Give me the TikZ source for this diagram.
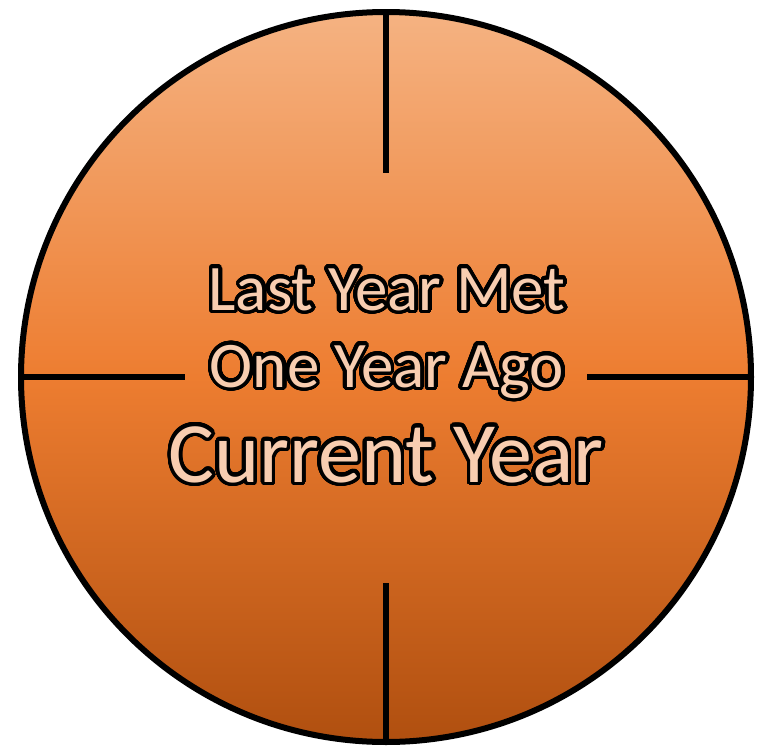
\documentclass[tikz,border=0pt]{standalone}
\usepackage{fontspec}
\setmainfont{Carlito}
\usepackage[copies]{contour}
\contourlength{3.5pt}
\contournumber{48}
\definecolor{peach}{RGB}{248,205,176}
\pgfdeclareverticalshading{orangegrad}{100bp}{
  rgb(0bp)=(0.69,0.31,0.06);
  rgb(25bp)=(0.69,0.31,0.06);
  rgb(50bp)=(0.93,0.49,0.19);
  rgb(75bp)=(0.96,0.70,0.51);
  rgb(100bp)=(0.96,0.70,0.51)}
\tikzset{
  rim/.style={line width=6pt, draw=black},
  tick/.style={line width=5.5pt, draw=black},
  lbl/.style={inner sep=0pt, anchor=base, text=peach}
}
\begin{document}
\begin{tikzpicture}[x=1pt,y=-1pt]
\useasboundingbox (0,0) rectangle (761,747);
\shade[shading=orangegrad] (386,377) circle (365);
\node[circle, minimum size=730pt, inner sep=0pt, rim] (c) at (386,377) {};
\coordinate (tn) at (386,173);
\coordinate (ts) at (386,583);
\coordinate (tw) at (185,377);
\coordinate (te) at (587,377);
\draw[tick] (c.north) -- (tn);
\draw[tick] (c.south) -- (ts);
\draw[tick] (c.west) -- (tw);
\draw[tick] (c.east) -- (te);
\node[lbl, font=\fontsize{65}{70}\selectfont] (l1) at (387,310) {\contour{black}{Last Year Met}};
\node[lbl, font=\fontsize{65}{70}\selectfont] (l2) at (387,387) {\contour{black}{One Year Ago}};
\node[lbl, font=\fontsize{86}{90}\selectfont] (l3) at (386,482) {\contour{black}{Current Year}};
\end{tikzpicture}
\end{document}
